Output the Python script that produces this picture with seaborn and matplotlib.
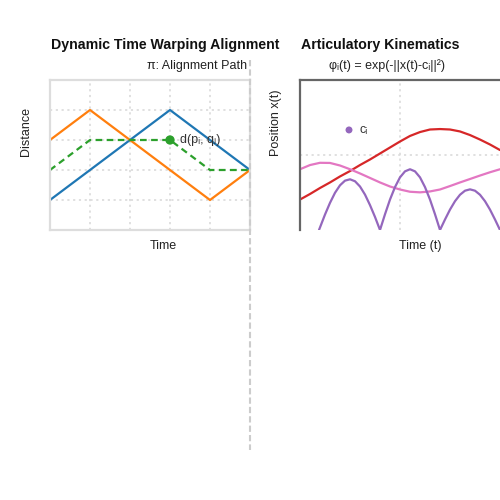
import numpy as np
import matplotlib
matplotlib.use("Agg")
import matplotlib.pyplot as plt
import seaborn as sns
from matplotlib.lines import Line2D

# ---- data: DTW panel (time steps 0..5) ----
dtw_time = [0, 1, 2, 3, 4, 5]
seq_p = [1, 2, 3, 4, 3, 2]          # blue
seq_q = [3, 4, 3, 2, 1, 2]          # orange
warp_path = [2, 3, 3, 3, 2, 2]      # green dashed
match_point = (3, 3)

# ---- data: kinematics panel ----
kin_time = [0, 0.5, 1, 1.5, 2, 2.5, 3, 3.5, 4, 4.5, 5, 5.5, 6, 6.5, 7, 7.5,
            8, 8.5, 9, 9.5, 10]
red_pos = [2.03, 2.4, 2.8, 3.17, 3.57, 3.93, 4.33, 4.7, 5.1, 5.5, 5.9, 6.27,
           6.53, 6.7, 6.73, 6.7, 6.57, 6.33, 6.03, 5.7, 5.33]
pink_pos = [4.05, 4.33, 4.48, 4.47, 4.3, 4.05, 3.77, 3.47, 3.17, 2.9, 2.7,
            2.55, 2.51, 2.57, 2.7, 2.93, 3.17, 3.4, 3.63, 3.85, 4.05]
purple_time = [0.95, 1.0, 1.25, 1.5, 1.75, 2.0, 2.25, 2.5, 2.75, 3.0, 3.25,
               3.5, 3.75, 4.0, 4.25, 4.5, 4.75, 5.0, 5.25, 5.5, 5.75, 6.0,
               6.25, 6.5, 6.75, 7.0, 7.25, 7.5, 7.75, 8.0, 8.25, 8.5, 8.75,
               9.0, 9.25, 9.5, 9.75, 10.0]
purple_pos = [0.0, 0.17, 1.03, 1.81, 2.48, 2.98, 3.29, 3.38, 3.25, 2.9, 2.36,
              1.66, 0.87, 0.0, 1.05, 2.03, 2.86, 3.51, 3.91, 4.05, 3.91, 3.51,
              2.86, 2.03, 1.05, 0.0, 0.70, 1.36, 1.92, 2.35, 2.62, 2.71, 2.62,
              2.35, 1.92, 1.36, 0.70, 0.0]
center_point = (2.45, 6.67)

sns.set_theme(style="white")
plt.rcParams['font.family'] = ['Liberation Sans', 'DejaVu Sans']

fig = plt.figure(figsize=(5, 5), dpi=100)
W, H = 500, 500

def px_axes(x0, y0, x1, y1):
    return fig.add_axes([x0 / W, 1 - y1 / H, (x1 - x0) / W, (y1 - y0) / H])

def ftext(x, y, s, **kw):
    fig.text(x / W, 1 - y / H, s, **kw)

# ---- left panel ----
ax1 = px_axes(50, 80, 250, 230)
ax1.set_xlim(0, 5)
ax1.set_ylim(0, 5)
ax1.set_xticks([1, 2, 3, 4])
ax1.set_yticks([1, 2, 3, 4])
ax1.set_xticklabels([])
ax1.set_yticklabels([])
ax1.tick_params(length=0)
ax1.grid(True, color="#dddddd", linestyle=(0, (1.2, 2)), linewidth=1.3)
for sp in ax1.spines.values():
    sp.set_color("#dddddd")
    sp.set_linewidth(1.6)

sns.lineplot(x=dtw_time, y=seq_p, ax=ax1, color="#1f77b4", linewidth=1.6)
sns.lineplot(x=dtw_time, y=seq_q, ax=ax1, color="#ff7f0e", linewidth=1.6)
sns.lineplot(x=dtw_time, y=warp_path, ax=ax1, color="#2ca02c",
             linewidth=1.6, linestyle=(0, (3, 2)))
sns.scatterplot(x=[match_point[0]], y=[match_point[1]], ax=ax1,
                color="#2ca02c", s=45, edgecolor="none", zorder=5)
ax1.text(match_point[0] + 0.25, match_point[1], "d(pᵢ, qⱼ)", fontsize=9,
         va="center", ha="left", color="#333333")
ax1.set_xlabel("")
ax1.set_ylabel("")

# ---- right panel ----
ax2 = px_axes(300, 80, 500, 230)
ax2.set_xlim(0, 10)
ax2.set_ylim(0, 10)
ax2.set_xticks([5])
ax2.set_yticks([5])
ax2.set_xticklabels([])
ax2.set_yticklabels([])
ax2.tick_params(length=0)
ax2.grid(True, color="#dddddd", linestyle=(0, (1.2, 2)), linewidth=1.3)
for name, sp in ax2.spines.items():
    if name in ("left", "top"):
        sp.set_color("#666666")
        sp.set_linewidth(1.6)
    else:
        sp.set_visible(False)

sns.lineplot(x=kin_time, y=red_pos, ax=ax2, color="#d62728", linewidth=1.6)
sns.lineplot(x=kin_time, y=pink_pos, ax=ax2, color="#e377c2", linewidth=1.6)
sns.lineplot(x=purple_time, y=purple_pos, ax=ax2, color="#9467bd",
             linewidth=1.6)
sns.scatterplot(x=[center_point[0]], y=[center_point[1]], ax=ax2,
                color="#9467bd", s=25, edgecolor="none", zorder=5)
ax2.text(center_point[0] + 0.55, center_point[1], "cᵢ", fontsize=9,
         va="center", ha="left", color="#333333")
ax2.set_xlabel("")
ax2.set_ylabel("")

# ---- titles and labels ----
ftext(165, 45, "Dynamic Time Warping Alignment", fontsize=10.2,
      fontweight="bold", ha="center", va="center", color="#111111")
ftext(380, 45, "Articulatory Kinematics", fontsize=10.2,
      fontweight="bold", ha="center", va="center", color="#111111")
ftext(247, 66, "π: Alignment Path", fontsize=9, ha="right", va="center",
      color="#222222")
ftext(387, 66, "φᵢ(t) = exp(-||x(t)-cᵢ||²)", fontsize=9, ha="center",
      va="center", color="#222222")
ftext(26, 131, "Distance", fontsize=9, rotation=90, ha="center",
      va="center", color="#222222")
ftext(276, 123, "Position x(t)", fontsize=9, rotation=90, ha="center",
      va="center", color="#222222")
ftext(163, 246, "Time", fontsize=9, ha="center", va="center",
      color="#222222")
ftext(420, 246, "Time (t)", fontsize=9, ha="center", va="center",
      color="#222222")

# dashed separator between panels
fig.add_artist(Line2D([250 / W, 250 / W], [1 - 60 / H, 1 - 450 / H],
                      color="#cccccc", linewidth=1.5,
                      linestyle=(0, (3, 1.5))))

fig.savefig("out.png", dpi=100)
